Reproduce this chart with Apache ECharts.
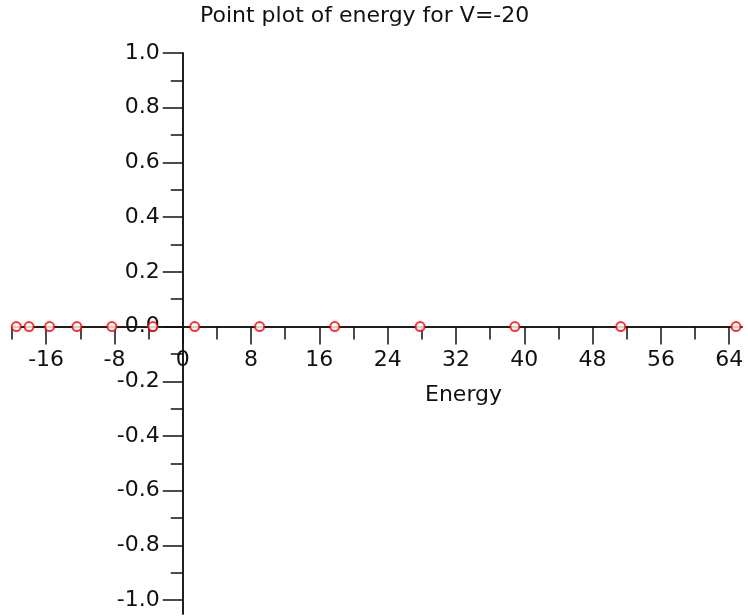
<!DOCTYPE html>
<html>
<head>
<meta charset="utf-8">
<script src="https://cdn.jsdelivr.net/npm/echarts@6/dist/echarts.min.js"></script>
<style>
  html, body { margin: 0; padding: 0; background: #fff; }
  #main { width: 748px; height: 616px; }
</style>
</head>
<body>
<div id="main"></div>
<script>
// energy levels (all drawn at y = 0)
var energy = [-19.5, -18.0, -15.6, -12.4, -8.3, -3.5, 1.4, 9.0, 17.8, 27.8, 38.9, 51.3, 64.8];
var level  = [0, 0, 0, 0, 0, 0, 0, 0, 0, 0, 0, 0, 0];

// tick values
var xMajor = [-16, -8, 0, 8, 16, 24, 32, 40, 48, 56, 64];
var xMinor = [-20, -12, -4, 4, 12, 20, 28, 36, 44, 52, 60];
var yMajor = [-1, -0.8, -0.6, -0.4, -0.2, 0, 0.2, 0.4, 0.6, 0.8, 1];
var yMinor = [-0.9, -0.7, -0.5, -0.3, -0.1, 0.1, 0.3, 0.5, 0.7, 0.9];

var X_MIN = -20, X_MAX = 65.5, Y_MIN = -1.05, Y_MAX = 1;

var FONT = 'DejaVu Sans';
var INK = '#111';

var pts = [];
for (var i = 0; i < energy.length; i++) {
  pts.push([energy[i], level[i]]);
}

// plot area in px: x -20..65.5 -> 12..742, y 1..-1.05 -> 53..613.9
var L = 12, R = 742, T = 53, B = 613.9;
var x0px = L + (0 - X_MIN) / (X_MAX - X_MIN) * (R - L);
var y0px = T + (Y_MAX - 0) / (Y_MAX - Y_MIN) * (B - T);

var line = { onZero: false, lineStyle: { color: INK, width: 1.5 } };
var noLine = { show: false, onZero: false };
var tickStyle = { color: INK, width: 1.5 };
var labelFont = { fontFamily: FONT, fontSize: 22, color: INK };

var chart = echarts.init(document.getElementById('main'));
var option = {
  backgroundColor: '#fff',
  animation: false,
  title: [
    {
      text: 'Point plot of energy for V=-20',
      left: 200, top: 5, padding: 0,
      textStyle: { fontFamily: FONT, fontSize: 22, fontWeight: 'normal', color: INK }
    },
    {
      text: 'Energy',
      left: 425, top: 384, padding: 0,
      textStyle: { fontFamily: FONT, fontSize: 22, fontWeight: 'normal', color: INK }
    }
  ],
  grid: [
    // grid 0: upper half, its bottom edge is the y = 0 line (carries the x axis)
    { left: L, right: 748 - R, top: T, bottom: 616 - y0px, containLabel: false, outerBoundsMode: 'none' },
    // grid 1: right of x = 0, its left edge is the x = 0 line (carries the y axis)
    { left: x0px, right: 748 - R, top: T, bottom: 616 - B, containLabel: false, outerBoundsMode: 'none' }
  ],
  xAxis: [
    {
      gridIndex: 0, type: 'value', min: X_MIN, max: X_MAX, position: 'bottom',
      axisLine: line,
      axisTick: { show: true, length: 18, customValues: xMajor, lineStyle: tickStyle },
      axisLabel: Object.assign({ customValues: xMajor, margin: 23 }, labelFont),
      splitLine: { show: false }
    },
    {
      gridIndex: 0, type: 'value', min: X_MIN, max: X_MAX, position: 'bottom',
      axisLine: line,
      axisTick: { show: true, length: 13, customValues: xMinor, lineStyle: tickStyle },
      axisLabel: { show: false },
      splitLine: { show: false }
    },
    {
      gridIndex: 1, type: 'value', min: 0, max: X_MAX, show: false,
      axisLine: noLine, splitLine: { show: false }
    }
  ],
  yAxis: [
    {
      gridIndex: 0, type: 'value', min: 0, max: Y_MAX, show: false,
      axisLine: noLine, splitLine: { show: false }
    },
    {
      gridIndex: 1, type: 'value', min: Y_MIN, max: Y_MAX, position: 'left',
      axisLine: line,
      axisTick: { show: true, length: 20, customValues: yMajor, lineStyle: tickStyle },
      axisLabel: Object.assign({
        customValues: yMajor, margin: 23,
        formatter: function (v) { return v.toFixed(1); }
      }, labelFont),
      splitLine: { show: false }
    },
    {
      gridIndex: 1, type: 'value', min: Y_MIN, max: Y_MAX, position: 'left',
      axisLine: line,
      axisTick: { show: true, length: 12, customValues: yMinor, lineStyle: tickStyle },
      axisLabel: { show: false },
      splitLine: { show: false }
    }
  ],
  series: [
    {
      type: 'scatter',
      xAxisIndex: 0, yAxisIndex: 0,
      data: pts,
      clip: false,
      symbol: 'emptyCircle',
      symbolSize: 9,
      itemStyle: { color: '#ff0000', borderColor: '#ff0000', borderWidth: 1.5 },
      z: 10
    }
  ]
};
chart.setOption(option);
</script>
</body>
</html>
